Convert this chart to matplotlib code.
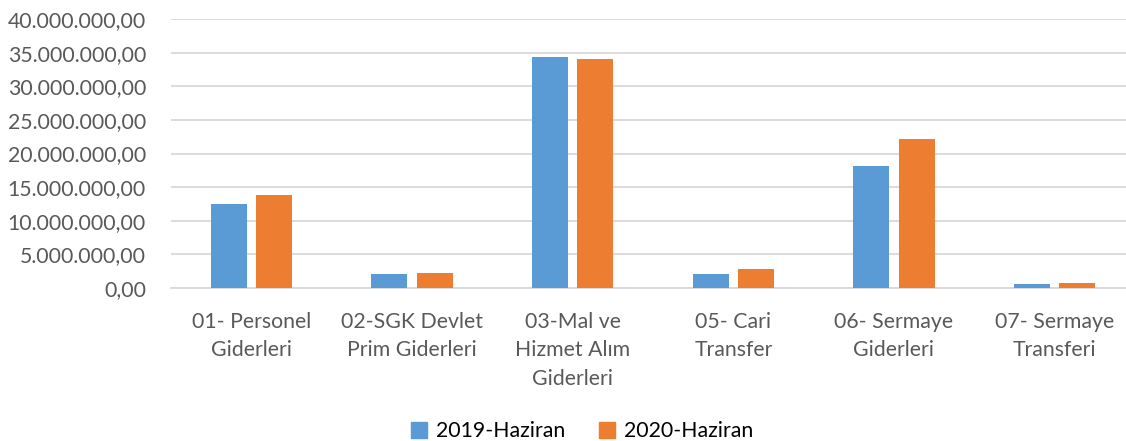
import numpy as np
import matplotlib
matplotlib.use("Agg")
import matplotlib.pyplot as plt
from matplotlib.ticker import FuncFormatter, MultipleLocator
from matplotlib.patches import Patch

plt.rcParams['font.family'] = ['Lato', 'DejaVu Sans']

categories = ["01- Personel\nGiderleri", "02-SGK Devlet\nPrim Giderleri", "03-Mal ve\nHizmet Alım\nGiderleri",
              "05- Cari\nTransfer", "06- Sermaye\nGiderleri", "07- Sermaye\nTransferi"]
haziran_2019 = [12480000, 2080000, 34300000, 2020000, 18120000, 600000]
haziran_2020 = [13860000, 2230000, 34060000, 2870000, 22220000, 740000]
series_names = ["2019-Haziran", "2020-Haziran"]

blue = "#5B9BD5"
orange = "#ED7D31"
text_col = "#595959"
grid_col = "#D9D9D9"

fig = plt.figure(figsize=(11.26, 4.41), dpi=100)
ax = fig.add_axes([171/1126, 153/441, 964/1126, 269/441])

x = np.arange(len(categories))
w = 0.224
off = 0.142
ax.bar(x - off, haziran_2019, w, color=blue, zorder=3)
ax.bar(x + off, haziran_2020, w, color=orange, zorder=3)

ax.set_xlim(-0.5, len(categories) - 0.5)
ax.set_ylim(0, 40000000)
ax.yaxis.set_major_locator(MultipleLocator(5000000))

def tr_fmt(v, pos):
    s = f"{v:,.2f}"
    return s.replace(",", "X").replace(".", ",").replace("X", ".")

ax.yaxis.set_major_formatter(FuncFormatter(tr_fmt))
ax.grid(axis="y", color=grid_col, linewidth=1.3, zorder=0)
for s in ["top", "right", "left"]:
    ax.spines[s].set_visible(False)
ax.spines["bottom"].set_color(grid_col)
ax.spines["bottom"].set_linewidth(1.3)
ax.tick_params(axis="both", length=0, labelsize=15.3, labelcolor=text_col)
ax.tick_params(axis="y", pad=18)
ax.tick_params(axis="x", pad=17)
ax.set_xticks(x)
ax.set_xticklabels(categories, linespacing=1.55, va="top")

handles = [Patch(color=blue), Patch(color=orange)]
fig.legend(handles, series_names, loc="center", bbox_to_anchor=(0.517, 0.022), ncol=2,
           frameon=False, fontsize=15.3, handlelength=0.75, handleheight=0.75, columnspacing=1.6,
           handletextpad=0.4, labelcolor="black", borderpad=0, borderaxespad=0)

fig.savefig("out.png", dpi=100)
